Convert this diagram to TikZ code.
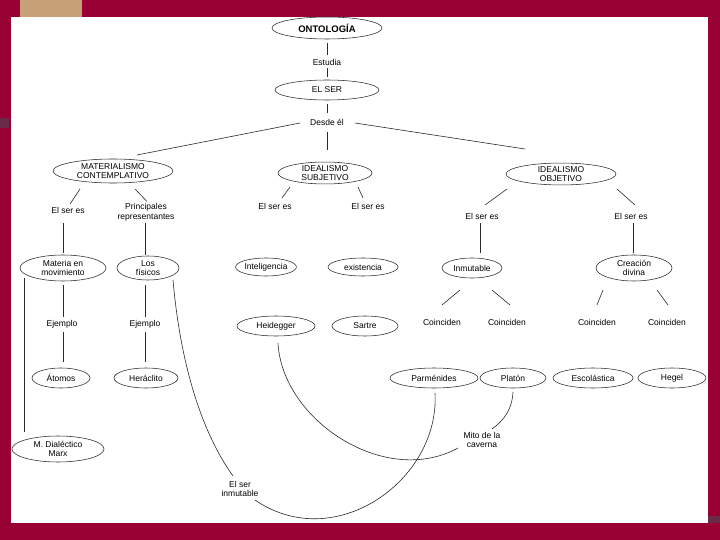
\documentclass[tikz,border=0pt]{standalone}
\usepackage{fontspec}
\setmainfont{Liberation Sans}
\usetikzlibrary{shapes.geometric}
\definecolor{framecol}{HTML}{990033}
\definecolor{tancol}{HTML}{C8A078}
\definecolor{markcol}{HTML}{6B2A4A}
\definecolor{ink}{HTML}{2A2A2A}
\begin{document}
\begin{tikzpicture}[x=1pt,y=-1pt,
  cnode/.style={ellipse, draw=ink, line width=0.55pt, inner sep=0pt, align=center, font=\fontsize{8.5}{9.5}\selectfont},
  lbl/.style={inner sep=1pt, align=center, font=\fontsize{8.5}{9.5}\selectfont},
  link/.style={draw=ink, line width=0.6pt}]
% background frame
\fill[framecol] (0,0) rectangle (720,540);
\fill[tancol] (20,0) rectangle (82,17);
\fill[markcol] (0,118) rectangle (9,128);
\fill[markcol] (708,516) rectangle (720,523);
\fill[white] (11,17) rectangle (708,523);
\useasboundingbox (0,0) rectangle (720,540);

% level 0-1
\node[cnode, minimum width=110pt, minimum height=22pt, font=\bfseries\fontsize{9.5}{11}\selectfont] (ont) at (327,28) {ONTOLOGÍA};
\node[lbl] (estudia) at (327,62) {Estudia};
\node[cnode, minimum width=104pt, minimum height=20pt] (elser) at (327,90) {EL SER};
\node[lbl] (desde) at (327,122) {Desde él};

% level 2
\node[cnode, minimum width=120pt, minimum height=24pt] (mc) at (113,171) {MATERIALISMO\\CONTEMPLATIVO};
\node[cnode, minimum width=94pt, minimum height=20pt] (is) at (325,173) {IDEALISMO\\SUBJETIVO};
\node[cnode, minimum width=110pt, minimum height=20pt] (io) at (561,174) {IDEALISMO\\OBJETIVO};

% level 3 labels
\node[lbl] (lmc1) at (68,210) {El ser es};
\node[lbl] (lmc2) at (146,212.5) {Principales\\representantes};
\node[lbl] (lis1) at (275,206) {El ser es};
\node[lbl] (lis2) at (368,206) {El ser es};
\node[lbl] (lio1) at (482,216) {El ser es};
\node[lbl] (lio2) at (631,216) {El ser es};

% level 4
\node[cnode, minimum width=86pt, minimum height=26pt] (mat) at (63,268) {Materia en\\movimiento};
\node[cnode, minimum width=62pt, minimum height=24pt] (los) at (148,268) {Los\\físicos};
\node[cnode, minimum width=58pt, minimum height=18pt] (intel) at (266,267) {Inteligencia};
\node[cnode, minimum width=70pt, minimum height=18pt] (exist) at (363,267) {existencia};
\node[cnode, minimum width=60pt, minimum height=20pt] (inm) at (472,268) {Inmutable};
\node[cnode, minimum width=76pt, minimum height=26pt] (crea) at (634,268) {Creación\\divina};

% level 5
\node[lbl] (ej1) at (62,324) {Ejemplo};
\node[lbl] (ej2) at (145,324) {Ejemplo};
\node[cnode, minimum width=78pt, minimum height=20pt] (heid) at (276,326) {Heidegger};
\node[cnode, minimum width=66pt, minimum height=20pt] (sart) at (365,326) {Sartre};
\node[lbl] (co1) at (442,322) {Coinciden};
\node[lbl] (co2) at (507,322) {Coinciden};
\node[lbl] (co3) at (597,322) {Coinciden};
\node[lbl] (co4) at (667,322) {Coinciden};

% level 6
\node[cnode, minimum width=58pt, minimum height=20pt] (atom) at (61,378) {Átomos};
\node[cnode, minimum width=64pt, minimum height=20pt] (hera) at (146,378) {Heráclito};
\node[cnode, minimum width=88pt, minimum height=20pt] (parm) at (434,378) {Parménides};
\node[cnode, minimum width=66pt, minimum height=20pt] (plat) at (513,378) {Platón};
\node[cnode, minimum width=80pt, minimum height=20pt] (esco) at (593,378) {Escolástica};
\node[cnode, minimum width=68pt, minimum height=20pt] (hegel) at (672,378) {Hegel};

% bottom
\node[cnode, minimum width=92pt, minimum height=26pt] (mdial) at (58,449) {M. Dialéctico\\Marx};
\node[lbl] (inmut) at (240,489) {El ser\\inmutable};
\node[lbl] (mito) at (482,440) {Mito de la\\caverna};

% connectors
\draw[link] ([shift={(0,15)}]ont.center) -- ([shift={(0,-7)}]estudia.center);
\draw[link] ([shift={(0,6)}]estudia.center) -- ([shift={(0,-13)}]elser.center);
\draw[link] ([shift={(0,14)}]elser.center) -- ([shift={(0,-9)}]desde.center);
\draw[link] ([shift={(0,10)}]desde.center) -- ([shift={(2,-23)}]is.center);
\draw[link] ([shift={(-27,1)}]desde.center) -- ([shift={(24,-16)}]mc.center);
\draw[link] ([shift={(28,1)}]desde.center) -- ([shift={(-36,-25)}]io.center);

\draw[link] ([shift={(-33,18)}]mc.center) -- ([shift={(2,-6)}]lmc1.center);
\draw[link] ([shift={(22,18)}]mc.center) -- ([shift={(1,-11)}]lmc2.center);
\draw[link] ([shift={(-35,14)}]is.center) -- ([shift={(7,-8)}]lis1.center);
\draw[link] ([shift={(33,14)}]is.center) -- ([shift={(-5,-8)}]lis2.center);
\draw[link] ([shift={(-54,15)}]io.center) -- ([shift={(3,-11)}]lio1.center);
\draw[link] ([shift={(56,15)}]io.center) -- ([shift={(4,-11)}]lio2.center);

\draw[link] ([shift={(-5,13)}]lmc1.center) -- ([shift={(0,-15)}]mat.center);
\draw[link] ([shift={(-1,10.5)}]lmc2.center) -- ([shift={(-3,-13)}]los.center);
\draw[link] ([shift={(-2,7)}]lio1.center) -- ([shift={(8,-15)}]inm.center);
\draw[link] ([shift={(2,7)}]lio2.center) -- ([shift={(-1,-15)}]crea.center);

\draw[link] ([shift={(0,17)}]mat.center) -- ([shift={(1,-7)}]ej1.center);
\draw[link] ([shift={(1,8)}]ej1.center) -- ([shift={(2,-16)}]atom.center);
\draw[link] ([shift={(-3,17)}]los.center) -- ([shift={(0,-7)}]ej2.center);
\draw[link] ([shift={(0,8)}]ej2.center) -- ([shift={(-1,-16)}]hera.center);

\draw[link] ([shift={(-12,22)}]inm.center) -- ([shift={(0,-17)}]co1.center);
\draw[link] ([shift={(20,22)}]inm.center) -- ([shift={(3,-17)}]co2.center);
\draw[link] ([shift={(-31,22)}]crea.center) -- ([shift={(0,-17)}]co3.center);
\draw[link] ([shift={(23,22)}]crea.center) -- ([shift={(1,-17)}]co4.center);

\draw[link] ([shift={(-39,10)}]mat.center) -- ([shift={(-34,-17)}]mdial.center);

% curves
\draw[link] ([shift={(25,12)}]los.center) .. controls (180,360) and (200,430) .. ([shift={(-7,-13)}]inmut.center);
\draw[link] ([shift={(1,15)}]parm.center) .. controls (440,480) and (335,555) .. ([shift={(15,11)}]inmut.center);
\draw[link] ([shift={(2,17)}]heid.center) .. controls (282,420) and (385,488) .. ([shift={(-24,8)}]mito.center);
\draw[link] ([shift={(0,14)}]plat.center) .. controls (512,410) and (504,420) .. ([shift={(10,-11)}]mito.center);
\end{tikzpicture}
\end{document}
